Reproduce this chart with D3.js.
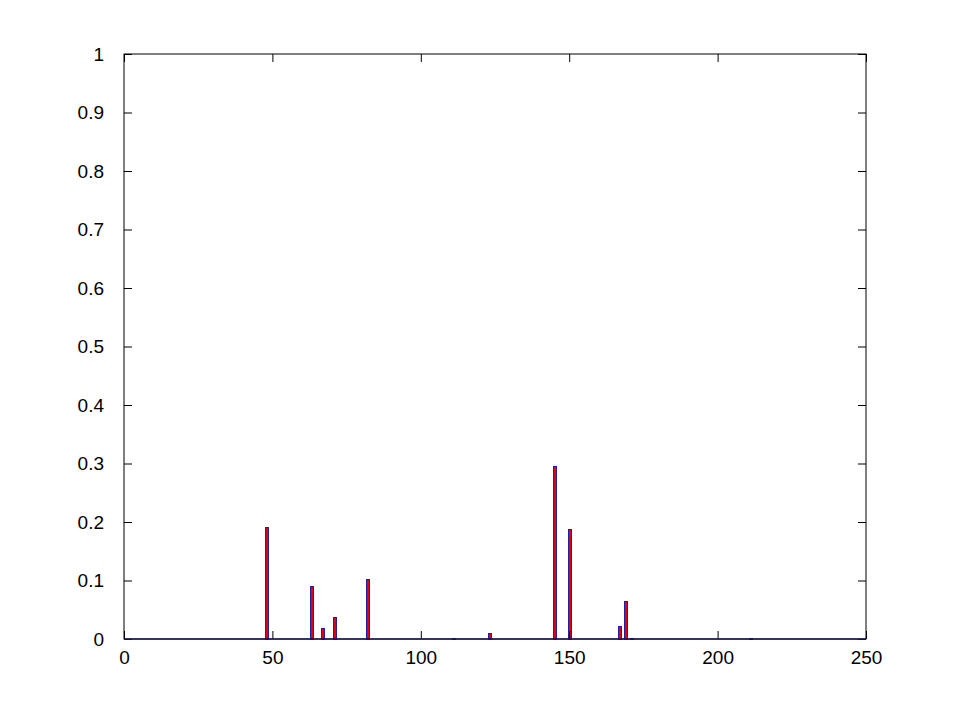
<!DOCTYPE html>
<html>
<head>
<meta charset="utf-8">
<script src="https://cdn.jsdelivr.net/npm/d3@7"></script>
<style>
  html, body { margin: 0; padding: 0; background: #fff; }
  svg { display: block; }
  text { font-family: "Liberation Sans", Arial, Helvetica, sans-serif; }
</style>
</head>
<body>
<svg id="chart" width="955" height="718"></svg>
<script>
// Bar positions (x) and heights (y); all other bins are zero
const binPositions = [48, 63, 67, 71, 82, 111, 123, 145, 150, 167, 169, 171, 211];
const binValues    = [0.192, 0.090, 0.019, 0.037, 0.103, 0.002, 0.011, 0.295, 0.188, 0.023, 0.065, 0.002, 0.002];
const xTicks = [0, 50, 100, 150, 200, 250];
const yTicks = [0, 0.1, 0.2, 0.3, 0.4, 0.5, 0.6, 0.7, 0.8, 0.9, 1];
const xTickLabels = ["0", "50", "100", "150", "200", "250"];
const yTickLabels = ["0", "0.1", "0.2", "0.3", "0.4", "0.5", "0.6", "0.7", "0.8", "0.9", "1"];

(function () {
const svg = d3.select("#chart");
const mLeft = 124, mRight = 866, mTop = 54, mBottom = 639;
const x = d3.scaleLinear().domain([0, 250]).range([mLeft, mRight]);
const y = d3.scaleLinear().domain([0, 1]).range([mBottom, mTop]);
const tickLen = 8;
const barW = 1.0;

// Bars
svg.append("g").selectAll("rect")
  .data(binPositions.map((p, i) => ({p, v: binValues[i]})))
  .enter().append("rect")
  .attr("x", d => Math.round(x(d.p - barW / 2)) + 0.5)
  .attr("width", d => Math.round(x(barW) - x(0)))
  .attr("y", d => Math.round(y(d.v)) + 0.5)
  .attr("height", d => Math.round(y(0)) - Math.round(y(d.v)))
  .attr("fill", "#e00010")
  .attr("stroke", "#2020a0")
  .attr("stroke-width", 1);

// Axes with ticks inside
const xAxis = d3.axisBottom(x).tickValues(xTicks)
  .tickFormat((d, i) => xTickLabels[i]).tickSizeInner(-tickLen).tickSizeOuter(0).tickPadding(12);
const gx = svg.append("g").attr("transform", `translate(0,${mBottom})`).call(xAxis);
const yAxis = d3.axisLeft(y).tickValues(yTicks)
  .tickFormat((d, i) => yTickLabels[i]).tickSizeInner(-tickLen).tickSizeOuter(0).tickPadding(20);
const gy = svg.append("g").attr("transform", `translate(${mLeft},0)`).call(yAxis);
const gt = svg.append("g").attr("transform", `translate(0,${mTop})`)
  .call(d3.axisTop(x).tickValues(xTicks).tickFormat("").tickSizeInner(-tickLen).tickSizeOuter(0));
const gr = svg.append("g").attr("transform", `translate(${mRight},0)`)
  .call(d3.axisRight(y).tickValues(yTicks).tickFormat("").tickSizeInner(-tickLen).tickSizeOuter(0));

[gx, gy, gt, gr].forEach(g => {
  g.select(".domain").remove();
  g.selectAll(".tick line").attr("stroke", "#000").attr("stroke-width", 1);
  g.selectAll("text").attr("fill", "#000").attr("font-size", 19)
    .attr("font-family", "'Liberation Sans', Arial, sans-serif");
});

// Box
svg.append("rect")
  .attr("x", mLeft).attr("y", mTop)
  .attr("width", mRight - mLeft).attr("height", mBottom - mTop)
  .attr("fill", "none").attr("stroke", "#000").attr("stroke-width", 1);
// Bar baseline over box bottom
svg.append("line")
  .attr("x1", mLeft).attr("x2", mRight)
  .attr("y1", y(0)).attr("y2", y(0))
  .attr("stroke", "#1a1a66").attr("stroke-width", 1.5);
})();
</script>
</body>
</html>
